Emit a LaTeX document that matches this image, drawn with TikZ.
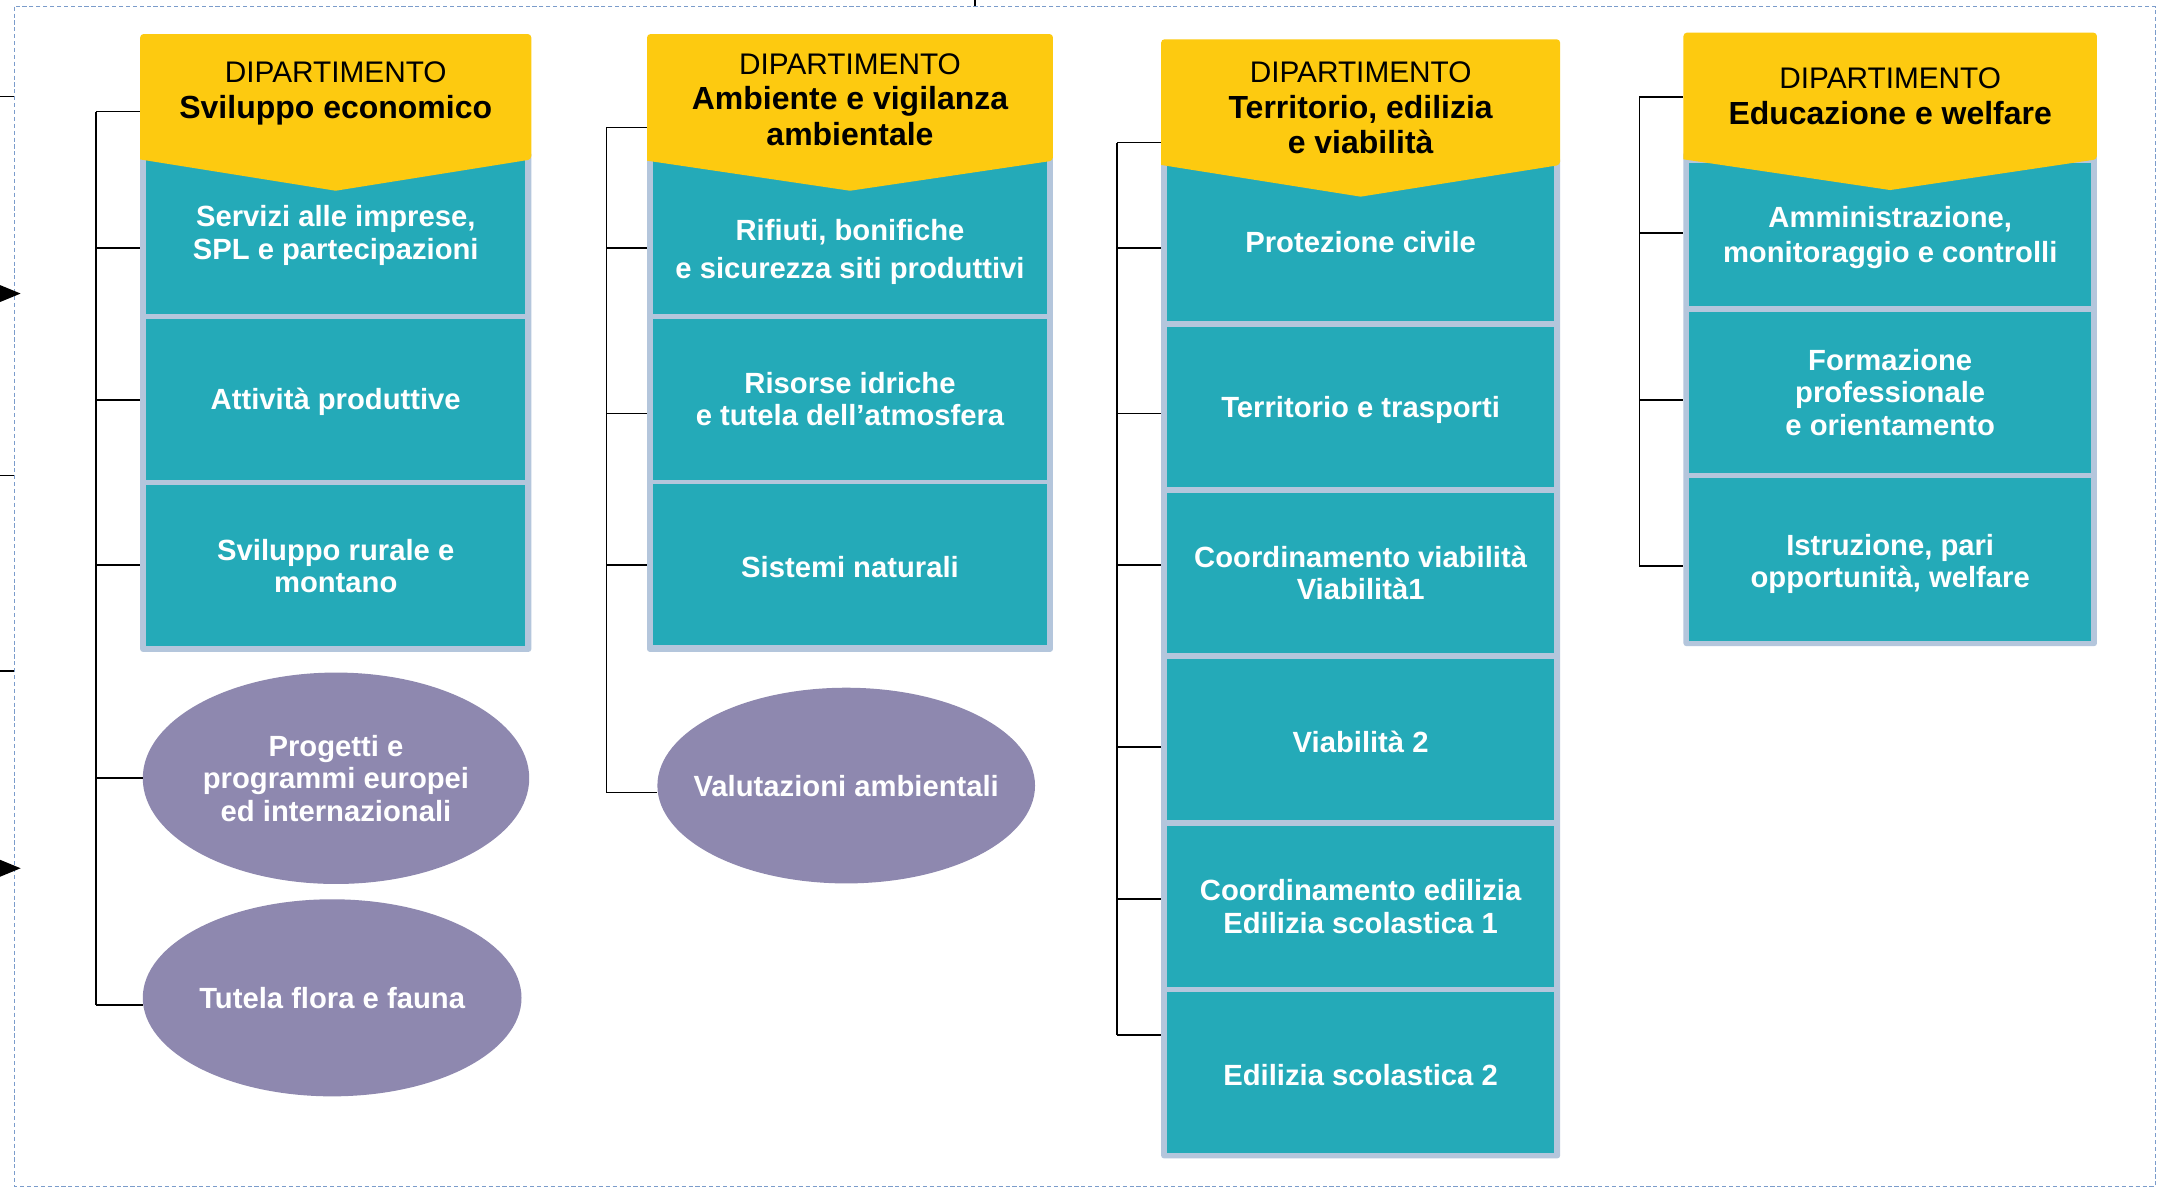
\documentclass[tikz,border=0pt]{standalone}
\usepackage{fontspec}
\setmainfont{Liberation Sans}
\usetikzlibrary{shapes.geometric,arrows.meta}
\definecolor{yel}{HTML}{FDCA10}
\definecolor{tealc}{HTML}{24AAB8}
\definecolor{framec}{HTML}{B4C6DC}
\definecolor{purplec}{HTML}{8E88AF}
\definecolor{dashc}{HTML}{7B9CCB}
\newcommand\deptname[1]{{\bfseries\fontsize{23.2}{25.7}\selectfont #1}}
\begin{document}
\begin{tikzpicture}[x=1pt,y=-1pt,
  frm/.style={rectangle,fill=framec,rounded corners=2pt,inner sep=0pt},
  bx/.style={rectangle,fill=tealc,text=white,inner sep=0pt,align=center,
    font=\fontsize{21.2}{23.5}\selectfont\bfseries,
    execute at begin node={\rule{0pt}{19.5pt}}},
  btxt/.style={inner sep=0pt,align=center,text=white,
    font=\fontsize{21.2}{23.5}\selectfont\bfseries},
  ell/.style={ellipse,fill=purplec,text=white,inner sep=0pt,align=center,
    font=\fontsize{21.2}{23.5}\selectfont\bfseries},
  hd/.style={inner sep=0pt,align=center,text=black,
    font=\fontsize{21.6}{25.7}\selectfont},
  brk/.style={draw=black,line width=1.2pt},
  border/.style={draw=dashc,line width=0.8pt,dash pattern=on 3pt off 2pt}
]
\useasboundingbox (0,0) rectangle (1568,864);
\fill[white] (0,0) rectangle (1568,864);
\clip (0,0) rectangle (1568,864);

% dashed border
\draw[border] (10.5,4.8) rectangle (1564,860.7);

% left edge fragments
\coordinate (l1a) at (0,70);  \coordinate (l1b) at (10.5,70);
\coordinate (l2a) at (0,345); \coordinate (l2b) at (10.5,345);
\coordinate (l3a) at (0,487); \coordinate (l3b) at (10.5,487);
\draw[brk] (l1a) -- (l1b);
\draw[brk] (l2a) -- (l2b);
\draw[brk] (l3a) -- (l3b);
\coordinate (a1s) at (-30,213); \coordinate (a1e) at (15,213);
\coordinate (a2s) at (-30,630); \coordinate (a2e) at (15,630);
\draw[brk,-{Triangle[length=15pt,width=12pt]}] (a1s) -- (a1e);
\draw[brk,-{Triangle[length=15pt,width=12pt]}] (a2s) -- (a2e);
\coordinate (tt1) at (707.6,0); \coordinate (tt2) at (707.6,4.6);
\draw[brk] (tt1) -- (tt2);

%================ Column 1
\node[frm,minimum width=283.8,minimum height=363] (f1) at (243.6,291.5) {};
\node[bx,minimum width=275.2,minimum height=115.5] (b11) at (243.6,169.75) {\rule{0pt}{17.5pt}Servizi alle imprese,\\[1pt]SPL e partecipazioni};
\node[bx,minimum width=275.2,minimum height=116.5] (b12) at (243.6,289.75) {Attività produttive};
\node[bx,minimum width=275.2,minimum height=117] (b13) at (243.6,410.5) {Sviluppo rurale e\\montano};
\fill[yel,rounded corners=2.5pt] (101.7,115.7) -- (101.7,24.7) -- (385.5,24.7) -- (385.5,115.7) [sharp corners] -- (243.6,138.4) -- cycle;
\node[hd,minimum width=283.8] (h1) at (243.6,67.9) {DIPARTIMENTO\\\deptname{Sviluppo economico}};
\node[ell,minimum width=280.4,minimum height=153.4] (e11) at (243.8,564.7) {Progetti e\\programmi europei\\ ed internazionali};
\node[ell,minimum width=274.8,minimum height=143] (e12) at (241,724) {\makebox[0pt]{Tutela flora e fauna}};
\coordinate (k10) at (69.5,81);
\coordinate (k11) at (69.5,180);
\coordinate (k12) at (69.5,290);
\coordinate (k13) at (69.5,410);
\coordinate (k14) at (69.5,564.6);
\coordinate (k15) at (69.5,729);
\draw[brk] (k10) -- (k15);
\draw[brk] (k10) -- (k10 -| h1.west);
\draw[brk] (k11) -- (k11 -| f1.west);
\draw[brk] (k12) -- (k12 -| f1.west);
\draw[brk] (k13) -- (k13 -| f1.west);
\draw[brk] (k14) -- (k14 -| e11.west);
\draw[brk] (k15) -- (k15 -| e12.west);

%================ Column 2
\node[frm,minimum width=294.5,minimum height=363] (f2) at (616.75,291.5) {};
\node[bx,minimum width=285.9,minimum height=115.5] (b21) at (616.75,169.75) {};
\node[bx,minimum width=285.9,minimum height=116.5] (b22) at (616.75,289.75) {Risorse idriche\\e tutela dell’atmosfera};
\node[bx,minimum width=285.9,minimum height=117] (b23) at (616.75,409.5) {Sistemi naturali};
\fill[yel,rounded corners=2.5pt] (469.5,116.6) -- (469.5,24.7) -- (764,24.7) -- (764,116.6) [sharp corners] -- (616.75,138.4) -- cycle;
\node[btxt] (t21) at (616.75,182.5) {Rifiuti, bonifiche\\[4pt]e sicurezza siti produttivi};
\node[hd,minimum width=294.5] (h2) at (616.75,72.3) {DIPARTIMENTO\\\deptname{Ambiente e vigilanza}\\\deptname{ambientale}};
\node[ell,minimum width=274,minimum height=142] (e21) at (614,570) {\makebox[0pt]{Valutazioni ambientali}};
\coordinate (k20) at (440,92.4);
\coordinate (k21) at (440,180);
\coordinate (k22) at (440,300);
\coordinate (k23) at (440,410);
\coordinate (k24) at (440,575);
\draw[brk] (k20) -- (k24);
\draw[brk] (k20) -- (k20 -| h2.west);
\draw[brk] (k21) -- (k21 -| f2.west);
\draw[brk] (k22) -- (k22 -| f2.west);
\draw[brk] (k23) -- (k23 -| f2.west);
\draw[brk] (k24) -- (k24 -| e21.west);

%================ Column 3
\node[frm,minimum width=289.5,minimum height=726.5] (f3) at (987.25,477.25) {};
\node[bx,minimum width=280.9,minimum height=119] (b31) at (987.25,173.5) {Protezione civile};
\node[bx,minimum width=280.9,minimum height=116.5] (b32) at (987.25,295.25) {Territorio e trasporti};
\node[bx,minimum width=280.9,minimum height=116.5] (b33) at (987.25,415.75) {Coordinamento viabilità\\Viabilità1};
\node[bx,minimum width=280.9,minimum height=117] (b34) at (987.25,536.5) {Viabilità 2};
\node[bx,minimum width=280.9,minimum height=116.5] (b35) at (987.25,657.75) {Coordinamento edilizia\\Edilizia scolastica 1};
\node[bx,minimum width=280.9,minimum height=116.5] (b36) at (987.25,778.25) {Edilizia scolastica 2};
\fill[yel,rounded corners=2.5pt] (842.5,119.7) -- (842.5,28.5) -- (1132,28.5) -- (1132,119.7) [sharp corners] -- (987.25,142.7) -- cycle;
\node[hd,minimum width=289.5] (h3) at (987.25,78.2) {DIPARTIMENTO\\\deptname{Territorio, edilizia}\\\deptname{e viabilità}};
\coordinate (k30) at (810.5,103.5);
\coordinate (k31) at (810.5,180);
\coordinate (k32) at (810.5,300);
\coordinate (k33) at (810.5,410);
\coordinate (k34) at (810.5,542);
\coordinate (k35) at (810.5,652.4);
\coordinate (k36) at (810.5,751);
\draw[brk] (k30) -- (k36);
\draw[brk] (k30) -- (k30 -| h3.west);
\draw[brk] (k31) -- (k31 -| f3.west);
\draw[brk] (k32) -- (k32 -| f3.west);
\draw[brk] (k33) -- (k33 -| f3.west);
\draw[brk] (k34) -- (k34 -| f3.west);
\draw[brk] (k35) -- (k35 -| f3.west);
\draw[brk] (k36) -- (k36 -| f3.west);

%================ Column 4
\node[frm,minimum width=300,minimum height=358.8] (f4) at (1371.5,289.4) {};
\node[bx,minimum width=291.4,minimum height=104] (b41) at (1371.5,170) {\rule{0pt}{20pt}Amministrazione,\\[1.5pt]monitoraggio e controlli};
\node[bx,minimum width=291.4,minimum height=116.5] (b42) at (1371.5,284.75) {Formazione\\professionale\\e orientamento};
\node[bx,minimum width=291.4,minimum height=118] (b43) at (1371.5,406) {\rule{0pt}{22pt}Istruzione, pari\\opportunità, welfare};
\fill[yel,rounded corners=2.5pt] (1221.5,115.6) -- (1221.5,23.7) -- (1521.5,23.7) -- (1521.5,115.6) [sharp corners] -- (1371.5,137.9) -- cycle;
\node[hd,minimum width=300] (h4) at (1371.5,70) {DIPARTIMENTO\\\deptname{Educazione e welfare}};
\coordinate (k40) at (1189.5,70.5);
\coordinate (k41) at (1189.5,169);
\coordinate (k42) at (1189.5,290);
\coordinate (k43) at (1189.5,410.8);
\draw[brk] (k40) -- (k43);
\draw[brk] (k40) -- (k40 -| h4.west);
\draw[brk] (k41) -- (k41 -| f4.west);
\draw[brk] (k42) -- (k42 -| f4.west);
\draw[brk] (k43) -- (k43 -| f4.west);
\end{tikzpicture}
\end{document}
